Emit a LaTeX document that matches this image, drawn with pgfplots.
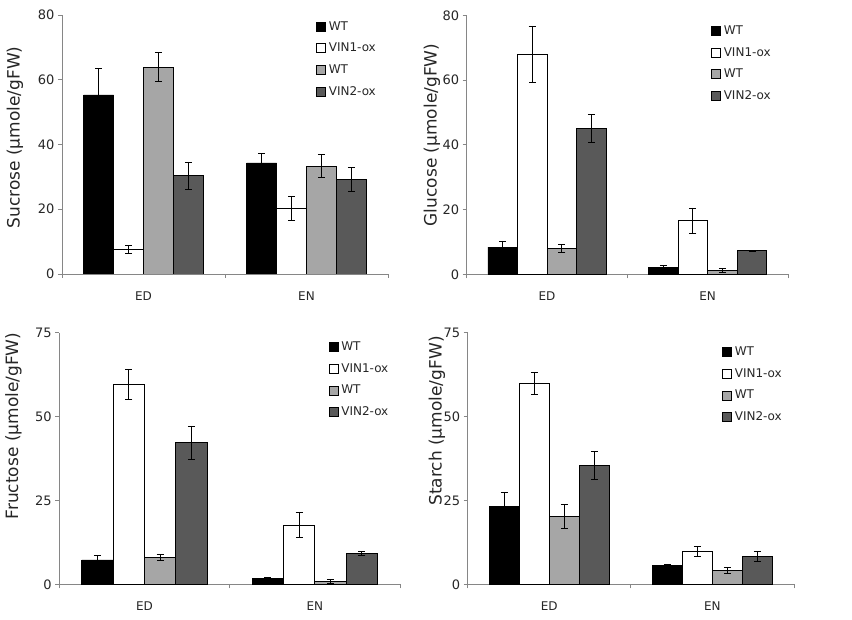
\documentclass[border=0pt]{standalone}
\usepackage{pgfplots}
\pgfplotsset{compat=1.18}
\usepackage{pgfplotstable}
\usepackage{fontspec}
\setmainfont{DejaVu Sans}

\definecolor{axgray}{HTML}{868686}
\definecolor{lgray}{HTML}{A6A6A6}
\definecolor{dgray}{HTML}{595959}
\definecolor{txt}{HTML}{262626}

\pgfplotstableread{
x wt1 wt1e v1 v1e wt2 wt2e v2 v2e
0.5 55.3 8.3 7.7 1.2 63.9 4.4 30.3 4.3
1.5 34.3 2.8 20.3 3.7 33.3 3.5 29.2 3.7
}\sucrose
\pgfplotstableread{
x wt1 wt1e v1 v1e wt2 wt2e v2 v2e
0.5 8.4 1.9 68.0 8.7 8.0 1.25 45.1 4.3
1.5 2.1 0.6 16.6 3.9 1.1 0.6 7.3 0.2
}\glucose
\pgfplotstableread{
x wt1 wt1e v1 v1e wt2 wt2e v2 v2e
0.5 7.25 1.4 59.6 4.5 8.0 0.9 42.2 5.0
1.5 1.8 0.3 17.6 3.7 0.8 0.6 9.2 0.5
}\fructose
\pgfplotstableread{
x wt1 wt1e v1 v1e wt2 wt2e v2 v2e
0.5 23.2 4.2 59.9 3.2 20.3 3.5 35.4 4.1
1.5 5.5 0.5 9.8 1.6 4.0 0.9 8.3 1.6
}\starch

\pgfplotsset{
  panel/.style={
    scale only axis, ybar=0pt, bar width=0.184,
    xmin=0, xmax=2, ymin=0,
    xtick={0,1,2}, xticklabels={ED,EN}, x tick label as interval,
    axis x line*=bottom, axis y line*=left,
    axis line style={axgray, line width=0.8pt},
    tick style={axgray, line width=0.8pt},
    major tick length=4pt, tick align=outside,
    /pgf/number format/assume math mode=true,
    ticklabel style={font=\fontsize{12}{14}\selectfont, text=txt},
    yticklabel style={font=\fontsize{13}{15}\selectfont},
    xticklabel style={yshift=-10pt},
    ylabel style={font=\fontsize{17}{20}\selectfont, text=txt, anchor=center},
    legend style={draw=none, fill=none, inner sep=0pt, anchor=north west,
      font=\fontsize{12}{14}\selectfont, text=txt, row sep=9.5pt,
      nodes={inner sep=1pt}},
    legend cell align=left,
    legend image code/.code={\draw[##1, line width=0.6pt] (0pt,-4.5pt) rectangle (9pt,4.5pt); \path (11pt,0pt);},
  },
  eb/.style={draw=black, line width=0.8pt,
    error bars/.cd, y dir=both, y explicit,
    error bar style={black, line width=0.8pt},
    error mark options={rotate=90, black, mark size=3.5pt, line width=0.8pt}},
}

\newcommand{\bars}[1]{%
  \addplot[fill=black, eb] table[x=x, y=wt1, y error=wt1e]{#1};
  \addplot[fill=white, eb] table[x=x, y=v1, y error=v1e]{#1};
  \addplot[fill=lgray, eb] table[x=x, y=wt2, y error=wt2e]{#1};
  \addplot[fill=dgray, eb] table[x=x, y=v2, y error=v2e]{#1};
  \legend{WT, VIN1-ox, WT, VIN2-ox}
}

\begin{document}
\begin{tikzpicture}
\path (0,0) rectangle (852pt,620pt);

\begin{axis}[panel, at={(62pt,346pt)}, anchor=south west,
  width=326pt, height=259pt, ymax=80, ytick={0,20,40,60,80},
  ylabel={Sucrose (μmole/gFW)},
  ylabel style={at={(rel axis cs:-0.1442,0.527)}},
  legend style={at={(0.779,0.98)}}]
\bars{\sucrose}
\end{axis}

\begin{axis}[panel, at={(466.7pt,345.7pt)}, anchor=south west,
  width=321.3pt, height=259pt, ymax=80, ytick={0,20,40,60,80},
  ylabel={Glucose (μmole/gFW)},
  ylabel style={at={(rel axis cs:-0.108,0.538)}},
  legend style={at={(0.76,0.965)}}]
\bars{\glucose}
\end{axis}

\begin{axis}[panel, at={(59.3pt,35.7pt)}, anchor=south west,
  width=340.7pt, height=251.6pt, ymax=75, ytick={0,25,50,75},
  ylabel={Fructose (μmole/gFW)},
  ylabel style={at={(rel axis cs:-0.1344,0.629)}},
  legend style={at={(0.79,0.969)}}]
\bars{\fructose}
\end{axis}

\begin{axis}[panel, at={(467.7pt,35.7pt)}, anchor=south west,
  width=326.3pt, height=251.6pt, ymax=75, ytick={0,25,50,75},
  ylabel={Starch (μmole/gFW)},
  ylabel style={at={(rel axis cs:-0.0941,0.649)}},
  legend style={at={(0.779,0.949)}}]
\bars{\starch}
\end{axis}
\end{tikzpicture}
\end{document}
